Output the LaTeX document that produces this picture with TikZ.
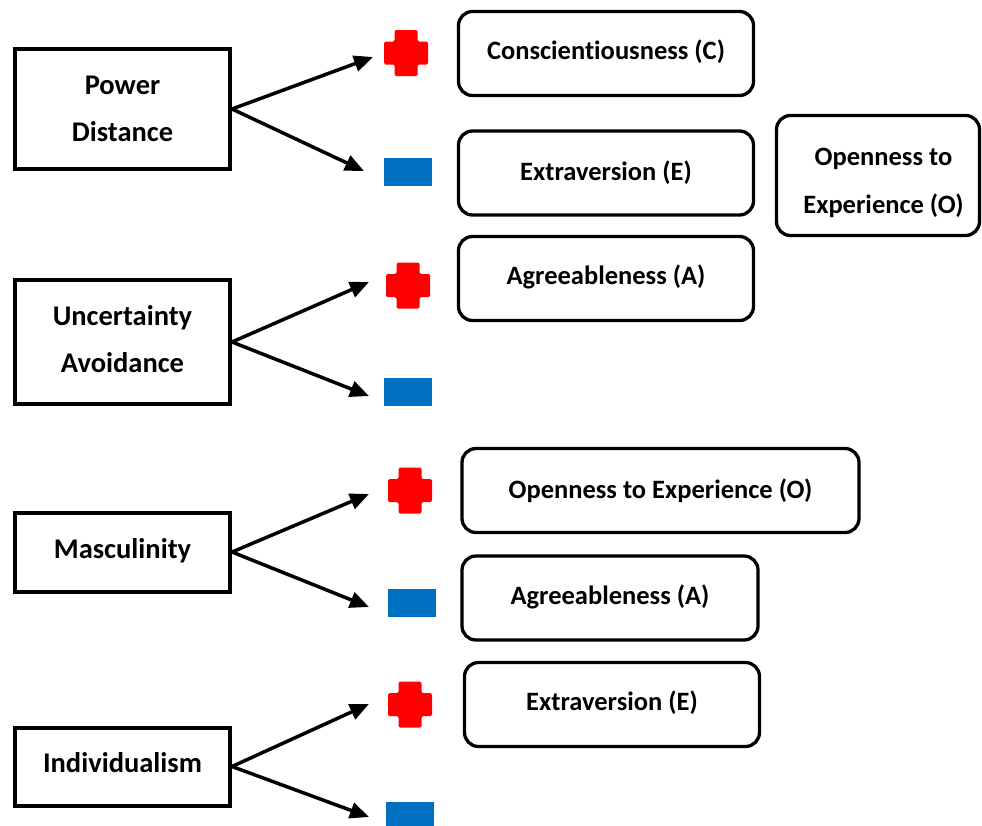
\documentclass[tikz,border=0pt]{standalone}
\usepackage{fontspec}
\setmainfont{Carlito}[Ligatures=NoCommon]
\usetikzlibrary{arrows.meta}

\definecolor{plusred}{HTML}{FF0000}
\definecolor{minusblue}{HTML}{0070C0}

% move a line of text vertically without changing its box size
\newcommand{\nudge}[2]{\raisebox{#1}[\height][\depth]{#2}}

\tikzset{
  dimbox/.style={draw=black, line width=4pt, fill=white, inner sep=0pt,
    minimum width=215pt, align=center,
    font=\bfseries\fontsize{28.5}{47}\selectfont},
  traitbox/.style={draw=black, line width=3.3pt, rounded corners=14pt,
    inner sep=0pt, minimum height=84pt, align=center,
    font=\bfseries\fontsize{26.5}{48}\selectfont},
  minusbar/.style={fill=minusblue, inner sep=0pt,
    minimum width=48pt, minimum height=28pt},
  link/.style={line width=3.5pt, -{Triangle[length=19pt,width=16pt]}},
  pics/crossmark/.style={code={
    \fill[plusred, rounded corners=1.5pt]
      (-11.5,-23) -- (11.5,-23) -- (11.5,-11.5) -- (22,-11.5) -- (22,11.5)
      -- (11.5,11.5) -- (11.5,23) -- (-11.5,23) -- (-11.5,11.5)
      -- (-22,11.5) -- (-22,-11.5) -- (-11.5,-11.5) -- cycle;
    \node[inner sep=0pt, minimum width=44pt, minimum height=46pt] (-c) {};
  }}
}

\begin{document}
\begin{tikzpicture}[x=1pt, y=-1pt]
\useasboundingbox (0,0) rectangle (982,825);

% cultural dimensions
\node[dimbox, minimum height=120pt] (pd) at (122.5,109) {Power\\Distance};
\node[dimbox, minimum height=124pt] (ua) at (122.5,342) {\nudge{2.5pt}{Uncertainty}\\\nudge{2.5pt}{Avoidance}};
\node[dimbox, minimum height=79pt]  (ma) at (122.5,552) {\nudge{1pt}{Masculinity}};
\node[dimbox, minimum height=78pt]  (id) at (122.5,766.5) {\nudge{4pt}{Individualism}};

% positive / negative signs
\pic (p1) at (406,53)    {crossmark};
\pic (p2) at (408,285.5) {crossmark};
\pic (p3) at (410,490.5) {crossmark};
\pic (p4) at (410,704.5) {crossmark};
\node[minusbar] (m1) at (408,172) {};
\node[minusbar] (m2) at (408,392) {};
\node[minusbar] (m3) at (412,603) {};
\node[minusbar] (m4) at (410,816) {};

% arrow tips in front of the signs
\coordinate (t1) at (373,57);
\coordinate (t2) at (364,171);
\coordinate (t3) at (369,282);
\coordinate (t4) at (369,396);
\coordinate (t5) at (369,494);
\coordinate (t6) at (369,607);
\coordinate (t7) at (369,704);
\coordinate (t8) at (369,817);

\draw[link] (pd.east) -- (t1);
\draw[link] (pd.east) -- (t2);
\draw[link] (ua.east) -- (t3);
\draw[link] (ua.east) -- (t4);
\draw[link] (ma.east) -- (t5);
\draw[link] (ma.east) -- (t6);
\draw[link] (id.east) -- (t7);
\draw[link] (id.east) -- (t8);

% personality traits
\node[traitbox, minimum width=295pt] (c1) at (606,53.5) {\nudge{2pt}{Conscientiousness (C)}};
\node[traitbox, minimum width=295pt] (e1) at (606,173) {Extraversion (E)};
\node[traitbox, minimum width=295pt] (a1) at (606,278.5) {\nudge{2pt}{Agreeableness (A)}};
\node[traitbox, minimum width=203pt, minimum height=120pt] (o1) at (878,175.5)
  {\hspace*{11pt}\nudge{-7.5pt}{Openness to}\\\hspace*{11pt}\nudge{-7.5pt}{Experience (O)}};
\node[traitbox, minimum width=397pt] (o2) at (660.5,490.5) {Openness to Experience (O)};
\node[traitbox, minimum width=296pt] (a2) at (610,598) {\nudge{1pt}{Agreeableness (A)}};
\node[traitbox, minimum width=295pt] (e2) at (612,704.5) {\nudge{2pt}{Extraversion (E)}};
\end{tikzpicture}
\end{document}
